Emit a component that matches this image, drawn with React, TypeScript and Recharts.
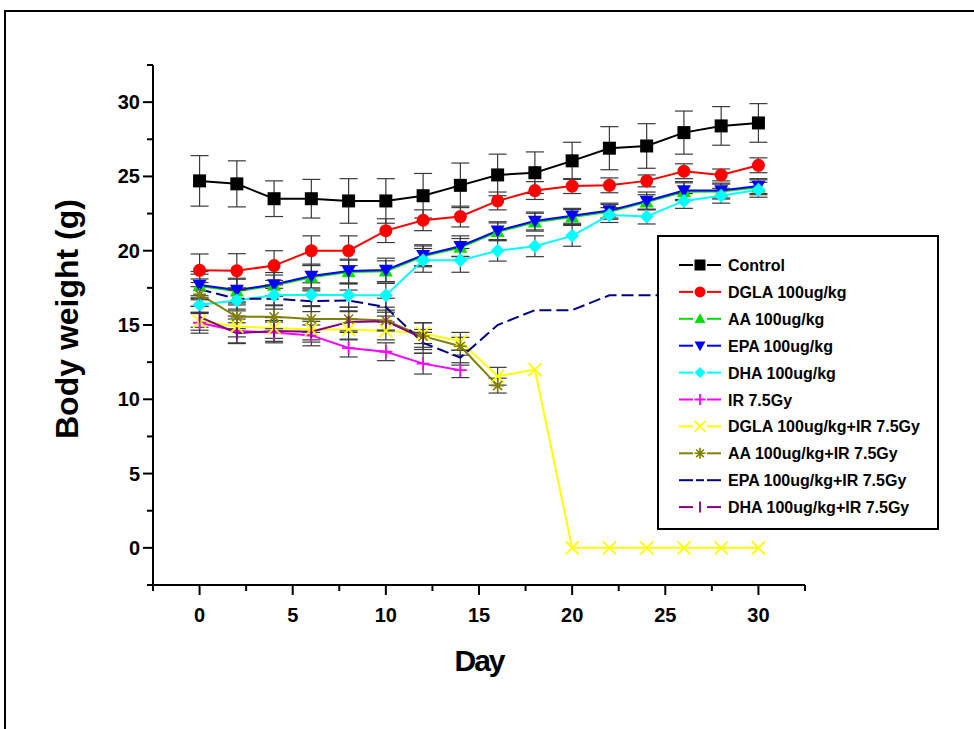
import React from "react";
import { LineChart, Line, XAxis, YAxis, ErrorBar } from "recharts";

// days of measurement
const days = [0, 2, 4, 6, 8, 10, 12, 14, 16, 18, 20, 22, 24, 26, 28, 30];

const control = [24.7, 24.5, 23.5, 23.5, 23.35, 23.35, 23.7, 24.4, 25.1, 25.25, 26.05, 26.9, 27.05, 27.95, 28.4, 28.6];
const controlErr = [1.7, 1.55, 1.2, 1.3, 1.5, 1.5, 1.5, 1.5, 1.4, 1.4, 1.25, 1.45, 1.5, 1.45, 1.3, 1.3];

const dgla = [18.68, 18.65, 19.0, 20.0, 20.0, 21.35, 22.05, 22.3, 23.35, 24.05, 24.35, 24.4, 24.7, 25.35, 25.1, 25.75];
const dglaErr = [1.1, 1.15, 1.0, 1.0, 1.0, 0.8, 0.7, 0.7, 0.6, 0.6, 0.5, 0.5, 0.4, 0.5, 0.4, 0.5];

const aa = [17.62, 17.28, 17.66, 18.22, 18.56, 18.62, 19.62, 20.22, 21.27, 21.92, 22.27, 22.62, 23.27, 23.97, 23.98, 24.27];
const aaErr = [0.8, 0.8, 0.7, 0.8, 0.8, 0.7, 0.7, 0.6, 0.6, 0.6, 0.5, 0.5, 0.5, 0.6, 0.5, 0.5];

const epa = [17.7, 17.35, 17.73, 18.3, 18.63, 18.7, 19.7, 20.3, 21.35, 22.0, 22.35, 22.7, 23.35, 24.05, 24.05, 24.35];
const epaErr = [0.9, 0.8, 0.8, 0.8, 0.8, 0.8, 0.7, 0.7, 0.6, 0.6, 0.5, 0.5, 0.6, 0.6, 0.5, 0.5];

const dha = [16.37, 16.65, 17.0, 17.04, 17.0, 17.0, 19.35, 19.35, 20.0, 20.3, 21.0, 22.4, 22.3, 23.35, 23.7, 24.1];
const dhaErr = [0.6, 0.7, 0.7, 0.8, 0.8, 0.8, 0.8, 0.8, 0.7, 0.7, 0.7, 0.5, 0.5, 0.5, 0.5, 0.5];

const ir = [15.15, 14.6, 14.5, 14.3, 13.45, 13.2, 12.4, 11.96];
const irErr = [0.7, 0.8, 0.7, 0.7, 0.6, 0.6, 0.7, 0.5];

const dglaIr = [15.25, 14.9, 14.8, 14.7, 14.7, 14.6, 14.45, 13.9, 11.55, 12.0, 0, 0, 0, 0, 0, 0];
const dglaIrErr = [0.6, 0.7, 0.7, 0.7, 0.7, 0.6, 0.7, 0.6, 0.6];

const aaIr = [17.06, 15.55, 15.55, 15.4, 15.4, 15.3, 14.25, 13.57, 10.92];
const aaIrErr = [0.8, 0.8, 0.8, 0.9, 0.8, 0.7, 0.9, 0.6, 0.5];

const epaIr = [17.4, 16.77, 16.77, 16.6, 16.65, 16.2, 13.8, 12.8, 15.0, 16.0, 16.0, 17.0, 17.0, 17.0, 17.5, 17.5];
const epaIrErr = [0.7, 0.7, 0.7, 0.7, 0.7, 0.6, 0.7, 0.5];

const dhaIr = [15.55, 14.45, 14.6, 14.55, 15.2, 15.26, 14.1];
const dhaIrErr = [0.7, 0.7, 0.7, 0.7, 0.7, 0.6, 0.6];

const axisTicks = [-2.5, 0, 2.5, 5, 7.5, 10, 12.5, 15, 17.5, 20, 22.5, 25, 27.5, 30, 32.5];

type Shape = "square" | "circle" | "up" | "down" | "diamond" | "plus" | "cross" | "star" | "none" | "vbar";

const series: { key: string; name: string; color: string; shape: Shape; values: number[]; errors: number[]; dash?: string }[] = [
  { key: "control", name: "Control", color: "#000000", shape: "square", values: control, errors: controlErr },
  { key: "dgla", name: "DGLA 100ug/kg", color: "#ff0000", shape: "circle", values: dgla, errors: dglaErr },
  { key: "aa", name: "AA 100ug/kg", color: "#00e000", shape: "up", values: aa, errors: aaErr },
  { key: "epa", name: "EPA 100ug/kg", color: "#0000ff", shape: "down", values: epa, errors: epaErr },
  { key: "dha", name: "DHA 100ug/kg", color: "#00ffff", shape: "diamond", values: dha, errors: dhaErr },
  { key: "ir", name: "IR 7.5Gy", color: "#ff00ff", shape: "plus", values: ir, errors: irErr },
  { key: "dglaIr", name: "DGLA 100ug/kg+IR 7.5Gy", color: "#ffff00", shape: "cross", values: dglaIr, errors: dglaIrErr },
  { key: "aaIr", name: "AA 100ug/kg+IR 7.5Gy", color: "#808000", shape: "star", values: aaIr, errors: aaIrErr },
  { key: "epaIr", name: "EPA 100ug/kg+IR 7.5Gy", color: "#000080", shape: "none", values: epaIr, errors: epaIrErr, dash: "12 5" },
  { key: "dhaIr", name: "DHA 100ug/kg+IR 7.5Gy", color: "#800080", shape: "vbar", values: dhaIr, errors: dhaIrErr },
];

const rows = days.map((day, i) => {
  const row: Record<string, number | undefined> = { day };
  series.forEach((s) => {
    row[s.key] = s.values[i];
    row[s.key + "Err"] = s.errors[i];
  });
  return row;
});

const FONT = "'Liberation Sans', Arial, sans-serif";

function Marker({ shape, cx, cy, color, s }: { shape: Shape; cx: number; cy: number; color: string; s: number }) {
  const h = s / 2;
  switch (shape) {
    case "square":
      return <rect x={cx - h} y={cy - h} width={s} height={s} fill={color} />;
    case "circle":
      return <circle cx={cx} cy={cy} r={h} fill={color} />;
    case "up":
      return <polygon points={`${cx},${cy - h} ${cx + h},${cy + h * 0.75} ${cx - h},${cy + h * 0.75}`} fill={color} />;
    case "down":
      return <polygon points={`${cx},${cy + h} ${cx + h},${cy - h * 0.75} ${cx - h},${cy - h * 0.75}`} fill={color} />;
    case "diamond":
      return <polygon points={`${cx},${cy - h} ${cx + h},${cy} ${cx},${cy + h} ${cx - h},${cy}`} fill={color} />;
    case "plus":
      return <path d={`M${cx - h},${cy}H${cx + h}M${cx},${cy - h}V${cy + h}`} stroke={color} strokeWidth={1.8} />;
    case "cross":
      return <path d={`M${cx - h},${cy - h}L${cx + h},${cy + h}M${cx + h},${cy - h}L${cx - h},${cy + h}`} stroke={color} strokeWidth={1.8} />;
    case "star":
      return (
        <path
          d={`M${cx - h},${cy}H${cx + h}M${cx},${cy - h}V${cy + h}M${cx - h * 0.7},${cy - h * 0.7}L${cx + h * 0.7},${cy + h * 0.7}M${cx + h * 0.7},${cy - h * 0.7}L${cx - h * 0.7},${cy + h * 0.7}`}
          stroke={color}
          strokeWidth={1.6}
        />
      );
    case "vbar":
      return <path d={`M${cx},${cy - h}V${cy + h}`} stroke={color} strokeWidth={1.8} />;
    default:
      return null;
  }
}

const markerSize: Record<Shape, number> = {
  square: 13,
  circle: 13,
  up: 14,
  down: 14,
  diamond: 14,
  plus: 13,
  cross: 13,
  star: 13,
  none: 0,
  vbar: 12,
};

function XTick(props: any) {
  const { x, y, payload } = props;
  const major = payload.value % 5 === 0;
  return (
    <g>
      <line x1={x} x2={x} y1={y} y2={y + (major ? 10 : 6)} stroke="#000" strokeWidth={2} />
      {major && (
        <text x={x} y={y + 37} textAnchor="middle" fontFamily={FONT} fontWeight="bold" fontSize={20} fill="#000">
          {payload.value}
        </text>
      )}
    </g>
  );
}

function YTick(props: any) {
  const { x, y, payload } = props;
  const major = payload.value % 5 === 0;
  return (
    <g>
      <line x1={x} x2={x - (major ? 10 : 6)} y1={y} y2={y} stroke="#000" strokeWidth={2} />
      {major && (
        <text x={x - 13} y={y + 7} textAnchor="end" fontFamily={FONT} fontWeight="bold" fontSize={20} fill="#000">
          {payload.value}
        </text>
      )}
    </g>
  );
}

function LegendBox() {
  const rowH = 26.9;
  return (
    <div
      style={{
        position: "absolute",
        left: 657,
        top: 235,
        width: 278,
        height: 291,
        border: "2px solid #000",
        background: "#fff",
      }}
    >
      <svg width={278} height={291}>
        {series.map((s, i) => {
          const cy = 28 + i * rowH;
          return (
            <g key={s.key}>
              <line x1={20} x2={34} y1={cy} y2={cy} stroke={s.color} strokeWidth={2} />
              <line x1={48} x2={62} y1={cy} y2={cy} stroke={s.color} strokeWidth={2} />
              {s.shape === "none" ? (
                <line x1={37} x2={45} y1={cy} y2={cy} stroke={s.color} strokeWidth={2} />
              ) : (
                <Marker shape={s.shape} cx={41} cy={cy} color={s.color} s={11} />
              )}
              <text x={69} y={cy + 6} fontFamily={FONT} fontWeight="bold" fontSize={16} fill="#000">
                {s.name}
              </text>
            </g>
          );
        })}
      </svg>
    </div>
  );
}

export default function App() {
  return (
    <div style={{ position: "absolute", left: 0, top: 0, width: 974, height: 729, overflow: "hidden", background: "#fff" }}>
      <div
        style={{
          position: "absolute",
          left: 4,
          top: 10,
          width: 1000,
          height: 800,
          borderTop: "2px solid #000",
          borderLeft: "2px solid #000",
        }}
      />
      <div style={{ position: "absolute", left: 0, top: 0 }}>
        <LineChart width={974} height={729} data={rows} margin={{ top: 65, right: 169, bottom: 94, left: 93 }}>
          <XAxis
            type="number"
            dataKey="day"
            domain={[-2.5, 32.5]}
            ticks={axisTicks}
            allowDataOverflow
            height={50}
            tickSize={0}
            tickMargin={0}
            tickLine={false}
            tick={<XTick />}
            interval={0}
            axisLine={{ stroke: "#000", strokeWidth: 2 }}
            label={{
              content: (p: any) => (
                <text
                  x={p.viewBox.x + p.viewBox.width / 2}
                  y={p.viewBox.y + 86}
                  textAnchor="middle"
                  fontFamily={FONT}
                  fontWeight="bold"
                  fontSize={30}
                  letterSpacing={-2}
                  fill="#000"
                >
                  Day
                </text>
              ),
            }}
          />
          <YAxis
            type="number"
            domain={[-2.5, 32.5]}
            ticks={axisTicks}
            allowDataOverflow
            width={60}
            tickSize={0}
            tickMargin={0}
            tickLine={false}
            tick={<YTick />}
            interval={0}
            axisLine={{ stroke: "#000", strokeWidth: 2 }}
            label={{
              content: (p: any) => {
                const cx = p.viewBox.x - 15;
                const cy = p.viewBox.y + p.viewBox.height / 2 - 6;
                return (
                  <text
                    transform={`translate(${cx},${cy}) rotate(-90)`}
                    textAnchor="middle"
                    fontFamily={FONT}
                    fontWeight="bold"
                    fontSize={32}
                    fill="#000"
                  >
                    Body weight (g)
                  </text>
                );
              },
            }}
          />
          {series.map((s) => (
            <Line
              key={s.key}
              dataKey={s.key}
              name={s.name}
              stroke={s.color}
              strokeWidth={2}
              strokeDasharray={s.dash}
              isAnimationActive={false}
              connectNulls={false}
              dot={(p: any) =>
                p.cy == null || p.value == null || s.shape === "none" ? (
                  <g key={`${s.key}-${p.index}`} />
                ) : (
                  <Marker key={`${s.key}-${p.index}`} shape={s.shape} cx={p.cx} cy={p.cy} color={s.color} s={markerSize[s.shape]} />
                )
              }
              activeDot={false}
            >
              <ErrorBar dataKey={s.key + "Err"} width={9} stroke="#3a3a3a" strokeWidth={1.2} direction="y" isAnimationActive={false} />
            </Line>
          ))}
        </LineChart>
      </div>
      <LegendBox />
    </div>
  );
}
